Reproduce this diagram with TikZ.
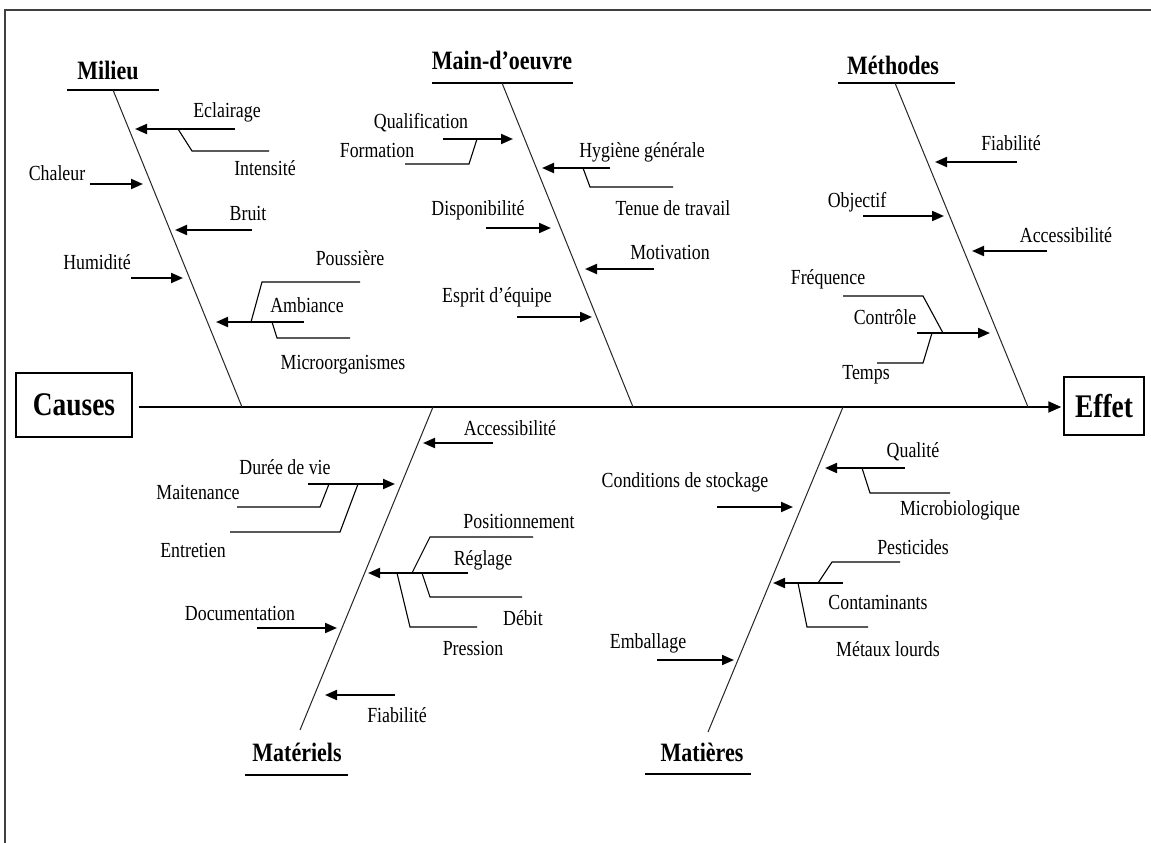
\documentclass[tikz,border=0pt]{standalone}
\usepackage{fontspec}
\newfontfamily\lab[FakeStretch=0.83]{Liberation Serif}
\usetikzlibrary{arrows.meta}
\begin{document}
\begin{tikzpicture}[x=1pt,y=-1pt,
  spine/.style={line width=1pt,black!85},
  arr/.style={line width=2pt,-{Triangle[length=12pt,width=10pt]}},
  sub/.style={line width=1.1pt},
  uline/.style={line width=1.6pt},
  lbl/.style={font=\lab\fontsize{21.5}{24}\selectfont,inner sep=0pt},
  hdr/.style={font=\lab\bfseries\fontsize{26.5}{28}\selectfont,inner sep=0pt},
  endbox/.style={draw,line width=1.4pt,inner sep=0pt,font=\lab\bfseries\fontsize{33}{36}\selectfont},
  frame/.style={line width=2pt,black!75}]
\useasboundingbox (0,0) rectangle (1151,843);
\fill[white] (0,0) rectangle (1151,843);
% frame
\coordinate (fr-a) at (5,843);
\coordinate (fr-b) at (5,10);
\coordinate (fr-c) at (1151,10);
\draw[frame] (fr-a) -- (fr-b) -- (fr-c);

% main line
\node[endbox,minimum width=116pt,minimum height=64pt] (causes) at (74,405) {Causes};
\node[endbox,minimum width=80pt,minimum height=58pt] (effet) at (1104,406) {Effet};
\draw[line width=2pt,-{Triangle[length=13pt,width=11pt]},shorten <=6pt,shorten >=2pt] (causes.east |- 0,407) -- (effet.west |- 0,407);

% ---------- Milieu ----------
\node[hdr] (milieu) at (108,70) {Milieu};
\coordinate (mil-u1) at (67,90); \coordinate (mil-u2) at (159,90);
\draw[uline] (mil-u1) -- (mil-u2);
\coordinate (mil-t) at (113,90); \coordinate (mil-b) at (242,407);
\draw[spine] (mil-t) -- (mil-b);
\node[lbl] (eclairage) at (227,112) {Eclairage};
\coordinate (ecl-s) at (235,129); \coordinate (ecl-e) at (135,129);
\draw[arr] (ecl-s) -- (ecl-e);
\coordinate (int-a) at (178,129); \coordinate (int-b) at (192,151); \coordinate (int-c) at (269,151);
\draw[sub] (int-a) -- (int-b) -- (int-c);
\node[lbl] (intensite) at (265,168) {Intensité};
\node[lbl] (chaleur) at (57,173) {Chaleur};
\coordinate (cha-s) at (90,184); \coordinate (cha-e) at (143,184);
\draw[arr] (cha-s) -- (cha-e);
\node[lbl] (bruit) at (248,213) {Bruit};
\coordinate (bru-s) at (252,230); \coordinate (bru-e) at (175,230);
\draw[arr] (bru-s) -- (bru-e);
\node[lbl] (humidite) at (97,262) {Humidité};
\coordinate (hum-s) at (131,278); \coordinate (hum-e) at (183,278);
\draw[arr] (hum-s) -- (hum-e);
\node[lbl] (ambiance) at (307,305) {Ambiance};
\coordinate (amb-s) at (304,322); \coordinate (amb-e) at (216,322);
\draw[arr] (amb-s) -- (amb-e);
\node[lbl] (poussiere) at (350,258) {Poussière};
\coordinate (pou-a) at (251,322); \coordinate (pou-b) at (262,282); \coordinate (pou-c) at (360,282);
\draw[sub] (pou-a) -- (pou-b) -- (pou-c);
\coordinate (mic-a) at (272,322); \coordinate (mic-b) at (277,338); \coordinate (mic-c) at (350,338);
\draw[sub] (mic-a) -- (mic-b) -- (mic-c);
\node[lbl] (microorg) at (343,365) {Microorganismes};

% ---------- Main-d'oeuvre ----------
\node[hdr] (maindoeuvre) at (502,60) {Main-d’oeuvre};
\coordinate (mo-u1) at (432,83); \coordinate (mo-u2) at (573,83);
\draw[uline] (mo-u1) -- (mo-u2);
\coordinate (mo-t) at (502,83); \coordinate (mo-b) at (633,407);
\draw[spine] (mo-t) -- (mo-b);
\node[lbl] (qualification) at (421,123) {Qualification};
\coordinate (qua-s) at (443,139); \coordinate (qua-e) at (513,139);
\draw[arr] (qua-s) -- (qua-e);
\node[lbl] (formation) at (377,150) {Formation};
\coordinate (for-a) at (477,139); \coordinate (for-b) at (469,164); \coordinate (for-c) at (405,164);
\draw[sub] (for-a) -- (for-b) -- (for-c);
\node[lbl] (hygiene) at (642,152) {Hygiène générale};
\coordinate (hyg-s) at (610,168); \coordinate (hyg-e) at (542,168);
\draw[arr] (hyg-s) -- (hyg-e);
\coordinate (ten-a) at (583,168); \coordinate (ten-b) at (590,187); \coordinate (ten-c) at (673,187);
\draw[sub] (ten-a) -- (ten-b) -- (ten-c);
\node[lbl] (tenue) at (673,208) {Tenue de travail};
\node[lbl] (dispo) at (478,210) {Disponibilité};
\coordinate (dis-s) at (486,228); \coordinate (dis-e) at (551,228);
\draw[arr] (dis-s) -- (dis-e);
\node[lbl] (motivation) at (670,252) {Motivation};
\coordinate (mot-s) at (654,269); \coordinate (mot-e) at (585,269);
\draw[arr] (mot-s) -- (mot-e);
\node[lbl] (esprit) at (497,297) {Esprit d’équipe};
\coordinate (esp-s) at (517,317); \coordinate (esp-e) at (592,317);
\draw[arr] (esp-s) -- (esp-e);

% ---------- Methodes ----------
\node[hdr] (methodes) at (893,65) {Méthodes};
\coordinate (me-u1) at (838,83); \coordinate (me-u2) at (955,83);
\draw[uline] (me-u1) -- (me-u2);
\coordinate (me-t) at (895,83); \coordinate (me-b) at (1028,407);
\draw[spine] (me-t) -- (me-b);
\node[lbl] (fiab1) at (1011,143) {Fiabilité};
\coordinate (fi1-s) at (1017,162); \coordinate (fi1-e) at (935,162);
\draw[arr] (fi1-s) -- (fi1-e);
\node[lbl] (objectif) at (857,202) {Objectif};
\coordinate (obj-s) at (863,216); \coordinate (obj-e) at (944,216);
\draw[arr] (obj-s) -- (obj-e);
\node[lbl] (access1) at (1066,235) {Accessibilité};
\coordinate (ac1-s) at (1047,251); \coordinate (ac1-e) at (972,251);
\draw[arr] (ac1-s) -- (ac1-e);
\node[lbl] (frequence) at (828,279) {Fréquence};
\coordinate (fre-a) at (843,296); \coordinate (fre-b) at (923,296); \coordinate (fre-c) at (943,333);
\draw[sub] (fre-a) -- (fre-b) -- (fre-c);
\node[lbl] (controle) at (885,317) {Contrôle};
\coordinate (con-s) at (917,333); \coordinate (con-e) at (990,333);
\draw[arr] (con-s) -- (con-e);
\coordinate (tem-a) at (932,333); \coordinate (tem-b) at (923,363); \coordinate (tem-c) at (877,363);
\draw[sub] (tem-a) -- (tem-b) -- (tem-c);
\node[lbl] (temps) at (866,375) {Temps};

% ---------- Materiels ----------
\coordinate (ma-t) at (433,407); \coordinate (ma-b) at (300,730);
\draw[spine] (ma-t) -- (ma-b);
\node[hdr] (materiels) at (297,752) {Matériels};
\coordinate (ma-u1) at (245,775); \coordinate (ma-u2) at (348,775);
\draw[uline] (ma-u1) -- (ma-u2);
\node[lbl] (access2) at (510,428) {Accessibilité};
\coordinate (ac2-s) at (493,443); \coordinate (ac2-e) at (423,443);
\draw[arr] (ac2-s) -- (ac2-e);
\node[lbl] (duree) at (285,467) {Durée de vie};
\coordinate (dur-s) at (308,484); \coordinate (dur-e) at (395,484);
\draw[arr] (dur-s) -- (dur-e);
\coordinate (mai-a) at (329,484); \coordinate (mai-b) at (320,507); \coordinate (mai-c) at (237,507);
\draw[sub] (mai-a) -- (mai-b) -- (mai-c);
\node[lbl] (maitenance) at (198,492) {Maitenance};
\coordinate (ent-a) at (358,484); \coordinate (ent-b) at (340,532); \coordinate (ent-c) at (230,532);
\draw[sub] (ent-a) -- (ent-b) -- (ent-c);
\node[lbl] (entretien) at (193,550) {Entretien};
\node[lbl] (reglage) at (483,560) {Réglage};
\coordinate (reg-s) at (468,573); \coordinate (reg-e) at (368,573);
\draw[arr] (reg-s) -- (reg-e);
\coordinate (pos-a) at (412,573); \coordinate (pos-b) at (430,537); \coordinate (pos-c) at (533,537);
\draw[sub] (pos-a) -- (pos-b) -- (pos-c);
\node[lbl] (position) at (519,521) {Positionnement};
\coordinate (deb-a) at (422,573); \coordinate (deb-b) at (430,597); \coordinate (deb-c) at (522,597);
\draw[sub] (deb-a) -- (deb-b) -- (deb-c);
\node[lbl] (debit) at (523,618) {Débit};
\coordinate (pre-a) at (397,573); \coordinate (pre-b) at (410,627); \coordinate (pre-c) at (477,627);
\draw[sub] (pre-a) -- (pre-b) -- (pre-c);
\node[lbl] (pression) at (473,648) {Pression};
\node[lbl] (documentation) at (240,613) {Documentation};
\coordinate (doc-s) at (257,628); \coordinate (doc-e) at (337,628);
\draw[arr] (doc-s) -- (doc-e);
\node[lbl] (fiab2) at (397,715) {Fiabilité};
\coordinate (fi2-s) at (395,695); \coordinate (fi2-e) at (325,695);
\draw[arr] (fi2-s) -- (fi2-e);

% ---------- Matieres ----------
\coordinate (mt-t) at (843,407); \coordinate (mt-b) at (708,732);
\draw[spine] (mt-t) -- (mt-b);
\node[hdr] (matieres) at (702,752) {Matières};
\coordinate (mt-u1) at (645,774); \coordinate (mt-u2) at (751,774);
\draw[uline] (mt-u1) -- (mt-u2);
\node[lbl] (qualite) at (913,452) {Qualité};
\coordinate (ql-s) at (905,468); \coordinate (ql-e) at (825,468);
\draw[arr] (ql-s) -- (ql-e);
\coordinate (mb-a) at (862,468); \coordinate (mb-b) at (870,493); \coordinate (mb-c) at (950,493);
\draw[sub] (mb-a) -- (mb-b) -- (mb-c);
\node[lbl] (microbio) at (960,510) {Microbiologique};
\node[lbl] (stockage) at (685,482) {Conditions de stockage};
\coordinate (sto-s) at (717,507); \coordinate (sto-e) at (793,507);
\draw[arr] (sto-s) -- (sto-e);
\coordinate (cnt-s) at (843,583); \coordinate (cnt-e) at (773,583);
\draw[arr] (cnt-s) -- (cnt-e);
\node[lbl] (contaminants) at (878,602) {Contaminants};
\coordinate (pes-a) at (818,583); \coordinate (pes-b) at (832,562); \coordinate (pes-c) at (900,562);
\draw[sub] (pes-a) -- (pes-b) -- (pes-c);
\node[lbl] (pesticides) at (913,547) {Pesticides};
\coordinate (met-a) at (798,583); \coordinate (met-b) at (807,627); \coordinate (met-c) at (868,627);
\draw[sub] (met-a) -- (met-b) -- (met-c);
\node[lbl] (metaux) at (888,649) {Métaux lourds};
\node[lbl] (emballage) at (648,643) {Emballage};
\coordinate (emb-s) at (657,660); \coordinate (emb-e) at (734,660);
\draw[arr] (emb-s) -- (emb-e);
\end{tikzpicture}
\end{document}
